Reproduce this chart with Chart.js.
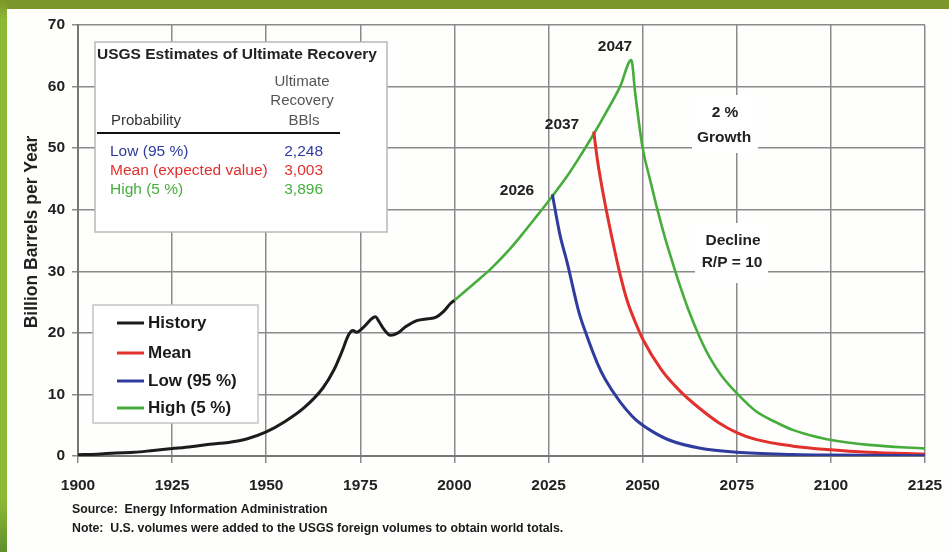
<!DOCTYPE html>
<html>
<head>
<meta charset="utf-8">
<script src="https://cdn.jsdelivr.net/npm/chart.js@4.4.0/dist/chart.umd.min.js"></script>
<style>
  html, body { margin: 0; padding: 0; background: #fff; }
  #wrap { position: relative; width: 949px; height: 552px; overflow: hidden; background: #fefefc; }
  #topBand { position: absolute; left: 0; top: 0; width: 949px; height: 9px; background: #7b962a; }
  #leftBand { position: absolute; left: 0; top: 0; width: 7px; height: 552px;
    background: linear-gradient(#7b962a 0px, #8cb934 20px, #8cb934 500px, #5f8f2c 552px); }
  canvas { position: absolute; left: 0; top: 0; }
</style>
</head>
<body>
<div id="wrap">
  <canvas id="oilChart" width="949" height="552"></canvas>
  <div id="topBand"></div>
  <div id="leftBand"></div>
</div>
<script>
// World oil production, billion barrels per year
const historyYears = [1900, 1905, 1910, 1915, 1920, 1925, 1930, 1935, 1940, 1945, 1950, 1955, 1960, 1965, 1968, 1970, 1972, 1973, 1974, 1976, 1978, 1979, 1980, 1981, 1983, 1985, 1987, 1990, 1993, 1995, 1997, 1999, 2000];
const historyValues = [0.2, 0.3, 0.5, 0.6, 0.9, 1.2, 1.5, 1.9, 2.2, 2.8, 3.9, 5.6, 7.8, 11.0, 14.0, 16.8, 19.8, 20.4, 20.1, 21.0, 22.3, 22.6, 21.8, 20.8, 19.6, 20.0, 21.0, 22.0, 22.3, 22.5, 23.4, 24.8, 25.3];

const highYears = [2000, 2005, 2010, 2015, 2018, 2021, 2026, 2030, 2034, 2037, 2040, 2044, 2047, 2048, 2050, 2052, 2054, 2056, 2058, 2060, 2062, 2065, 2068, 2071, 2075, 2080, 2085, 2090, 2095, 2100, 2110, 2125];
const highValues = [25.3, 27.9, 30.6, 33.8, 36.0, 38.3, 42.2, 45.5, 49.3, 52.3, 55.5, 60.0, 64.3, 59.0, 50.0, 44.8, 39.8, 35.3, 31.3, 27.5, 24.0, 19.5, 15.8, 13.0, 10.2, 7.3, 5.6, 4.2, 3.3, 2.6, 1.8, 1.2];

const meanYears = [2037, 2038, 2040, 2042, 2044, 2046, 2048, 2050, 2055, 2060, 2065, 2070, 2075, 2080, 2090, 2100, 2110, 2125];
const meanValues = [52.7, 48.0, 41.0, 35.0, 29.5, 25.0, 21.8, 19.0, 14.0, 10.5, 7.8, 5.5, 3.8, 2.7, 1.6, 1.0, 0.6, 0.3];

const lowYears = [2026, 2028, 2030, 2033, 2035, 2038, 2040, 2044, 2048, 2052, 2057, 2065, 2075, 2090, 2100, 2125];
const lowValues = [42.5, 36.0, 31.3, 23.5, 19.8, 15.0, 12.5, 8.8, 6.0, 4.2, 2.6, 1.3, 0.6, 0.25, 0.15, 0.05];

const xTicks = [1900, 1925, 1950, 1975, 2000, 2025, 2050, 2075, 2100, 2125];
const yTicks = [0, 10, 20, 30, 40, 50, 60, 70];

const tableRows = ["Low (95 %)", "Mean (expected value)", "High (5 %)"];
const tableValues = ["2,248", "3,003", "3,896"];
const legendLabels = ["History", "Mean", "Low (95 %)", "High (5 %)"];

const colors = { history: "#1c1c1c", mean: "#e2302d", low: "#2f3c9e", high: "#46ad3c" };
const FONT = "'Liberation Sans', Arial, sans-serif";

function pts(xs, ys) {
  return xs.map((x, i) => ({ x, y: ys[i] }));
}

function lineSet(label, xs, ys, color, width) {
  return {
    label,
    data: pts(xs, ys),
    borderColor: color,
    backgroundColor: color,
    borderWidth: width,
    pointRadius: 0,
    fill: false,
    cubicInterpolationMode: "monotone"
  };
}

// Texts drawn over the plot: inset table, legend, year labels, notes
const overlay = {
  id: "overlay",
  afterDraw(chart) {
    const c = chart.ctx;
    c.save();

    // axis title
    c.save();
    c.translate(32, 232);
    c.rotate(-Math.PI / 2);
    c.font = "bold 17.5px " + FONT;
    c.fillStyle = "#222";
    c.textAlign = "center";
    c.textBaseline = "middle";
    c.fillText("Billion Barrels per Year", 0, 0);
    c.restore();

    // white patches behind the notes
    c.fillStyle = "#fff";
    c.fillRect(692, 95, 66, 58);
    c.fillRect(695, 223, 73, 60);

    c.fillStyle = "#222";
    c.textAlign = "center";
    c.textBaseline = "middle";
    c.font = "bold 15.5px " + FONT;
    c.fillText("2047", 615, 47);
    c.fillText("2037", 562, 125);
    c.fillText("2026", 517, 191);
    c.fillText("2 %", 725, 113);
    c.fillText("Growth", 724, 138);
    c.fillText("Decline", 733, 241);
    c.fillText("R/P = 10", 732, 263);

    // inset table
    c.fillStyle = "#fff";
    c.fillRect(95, 42, 292, 190);
    c.strokeStyle = "#b8b8b8";
    c.lineWidth = 1.5;
    c.strokeRect(95, 42, 292, 190);
    c.fillStyle = "#222";
    c.font = "bold 15.5px " + FONT;
    c.textAlign = "left";
    c.fillText("USGS Estimates of Ultimate Recovery", 97, 55);
    c.font = "15px " + FONT;
    c.fillStyle = "#555";
    c.textAlign = "center";
    c.fillText("Ultimate", 302, 82);
    c.fillText("Recovery", 302, 101);
    c.fillText("BBls", 304, 121);
    c.textAlign = "left";
    c.fillStyle = "#333";
    c.fillText("Probability", 111, 121);
    c.strokeStyle = "#111";
    c.lineWidth = 2;
    c.beginPath();
    c.moveTo(97, 133);
    c.lineTo(340, 133);
    c.stroke();
    const rowColors = [colors.low, colors.mean, colors.high];
    const rowY = [152, 171, 190];
    c.font = "15.5px " + FONT;
    tableRows.forEach((r, i) => {
      c.fillStyle = rowColors[i];
      c.textAlign = "left";
      c.fillText(r, 110, rowY[i]);
      c.textAlign = "right";
      c.fillText(tableValues[i], 323, rowY[i]);
    });

    // legend
    c.fillStyle = "#fff";
    c.fillRect(93, 305, 165, 118);
    c.strokeStyle = "#c4c4c4";
    c.lineWidth = 1.5;
    c.strokeRect(93, 305, 165, 118);
    const legColors = [colors.history, colors.mean, colors.low, colors.high];
    const legY = [323, 353, 381, 408];
    c.font = "bold 17px " + FONT;
    c.textAlign = "left";
    legendLabels.forEach((l, i) => {
      c.strokeStyle = legColors[i];
      c.lineWidth = 3;
      c.beginPath();
      c.moveTo(117, legY[i]);
      c.lineTo(144, legY[i]);
      c.stroke();
      c.fillStyle = "#1a1a1a";
      c.fillText(l, 148, legY[i]);
    });

    // footer
    c.fillStyle = "#1a1a1a";
    c.font = "bold 12.3px " + FONT;
    c.fillText("Source:  Energy Information Administration", 72, 510);
    c.fillText("Note:  U.S. volumes were added to the USGS foreign volumes to obtain world totals.", 72, 529);

    c.restore();
  }
};

const ctx = document.getElementById("oilChart").getContext("2d");
const chart = new Chart(ctx, {
  type: "line",
  data: {
    datasets: [
      lineSet("Low (95 %)", lowYears, lowValues, colors.low, 3),
      lineSet("Mean", meanYears, meanValues, colors.mean, 3),
      lineSet("High (5 %)", highYears, highValues, colors.high, 2.6),
      lineSet("History", historyYears, historyValues, colors.history, 3)
    ]
  },
  options: {
    responsive: false,
    animation: false,
    layout: { padding: { left: 0, top: 25, right: 24, bottom: 0 } },
    plugins: { legend: { display: false }, tooltip: { enabled: false } },
    scales: {
      x: {
        type: "linear",
        min: 1900,
        max: 2125,
        afterBuildTicks: (s) => { s.ticks = xTicks.map(v => ({ value: v })); },
        afterFit: (s) => { s.height = 96; s.paddingLeft = 0; s.paddingRight = 0; },
        grid: { color: "#8a8a8a", lineWidth: 1.5, tickLength: 7, drawTicks: true },
        border: { color: "#777", width: 2 },
        ticks: {
          color: "#222", padding: 13, maxRotation: 0,
          font: { family: FONT, size: 15.5, weight: "bold" },
          callback: (v) => String(v)
        }
      },
      y: {
        min: 0,
        max: 70,
        afterBuildTicks: (s) => { s.ticks = yTicks.map(v => ({ value: v })); },
        afterFit: (s) => { s.width = 78; s.paddingTop = 0; s.paddingBottom = 0; },
        grid: { color: "#8a8a8a", lineWidth: 1.5, tickLength: 6 },
        border: { color: "#777", width: 2 },
        ticks: { color: "#222", padding: 7, font: { family: FONT, size: 15.5, weight: "bold" } }
      }
    }
  },
  plugins: [overlay]
});
</script>
</body>
</html>
